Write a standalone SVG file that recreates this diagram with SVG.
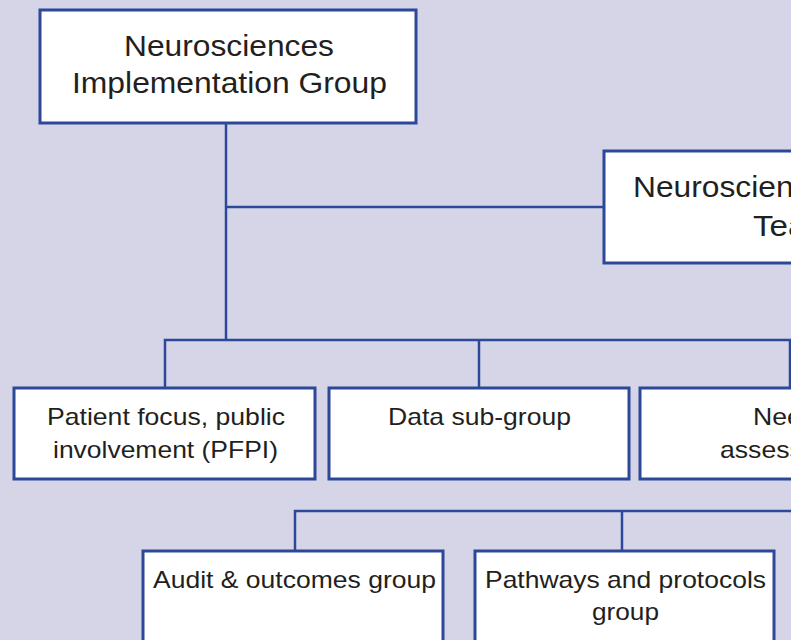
<svg xmlns="http://www.w3.org/2000/svg" width="791" height="640" viewBox="0 0 791 640">
<style>
.bg{fill:#d5d5e7}
.box{fill:#ffffff;stroke:#2c4898;stroke-width:3}
.ln{fill:none;stroke:#2c4898;stroke-width:2.5}
.t{font-family:"Liberation Sans",Arial,sans-serif;fill:#231f20;text-anchor:middle}
.tl{font-family:"Liberation Sans",Arial,sans-serif;fill:#231f20;text-anchor:start}
.big{font-size:29px}
.sm{font-size:24px}
</style>
<rect class="bg" x="0" y="0" width="791" height="640"/>
<g id="connectors">
<path class="ln" d="M226 123 V340"/>
<path class="ln" d="M226 207 H604"/>
<path class="ln" d="M165 388 V340 H790 V388"/>
<path class="ln" d="M479 340 V388"/>
<path class="ln" d="M295 551 V511 H791"/>
<path class="ln" d="M622 511 V551"/>
</g>
<g id="implementation-group">
<rect class="box" x="40" y="10" width="376" height="113"/>
<text class="t big" x="229" y="56" textLength="210" lengthAdjust="spacingAndGlyphs">Neurosciences</text>
<text class="t big" x="229.5" y="93" textLength="315" lengthAdjust="spacingAndGlyphs">Implementation Group</text>
</g>
<g id="network-team">
<rect class="box" x="604" y="151" width="380" height="112"/>
<text class="tl big" x="633" y="197" textLength="210" lengthAdjust="spacingAndGlyphs">Neurosciences</text>
<text class="tl big" x="753" y="236" textLength="81" lengthAdjust="spacingAndGlyphs">Team</text>
</g>
<g id="pfpi">
<rect class="box" x="14" y="388" width="301" height="91"/>
<text class="t sm" x="166" y="425" textLength="238" lengthAdjust="spacingAndGlyphs">Patient focus, public</text>
<text class="t sm" x="165.5" y="458" textLength="225" lengthAdjust="spacingAndGlyphs">involvement (PFPI)</text>
</g>
<g id="data-sub-group">
<rect class="box" x="329" y="388" width="300" height="91"/>
<text class="t sm" x="479.5" y="425" textLength="183" lengthAdjust="spacingAndGlyphs">Data sub-group</text>
</g>
<g id="needs-assessment">
<rect class="box" x="640" y="388" width="300" height="91"/>
<text class="tl sm" x="753" y="425" textLength="77" lengthAdjust="spacingAndGlyphs">Needs</text>
<text class="tl sm" x="720" y="458" textLength="142" lengthAdjust="spacingAndGlyphs">assessment</text>
</g>
<g id="audit-outcomes">
<rect class="box" x="143" y="551" width="300" height="110"/>
<text class="t sm" x="294.5" y="588" textLength="283" lengthAdjust="spacingAndGlyphs">Audit &amp; outcomes group</text>
</g>
<g id="pathways-protocols">
<rect class="box" x="475" y="551" width="299" height="110"/>
<text class="t sm" x="625.5" y="588" textLength="281" lengthAdjust="spacingAndGlyphs">Pathways and protocols</text>
<text class="t sm" x="625.5" y="620" textLength="67" lengthAdjust="spacingAndGlyphs">group</text>
</g>
</svg>
